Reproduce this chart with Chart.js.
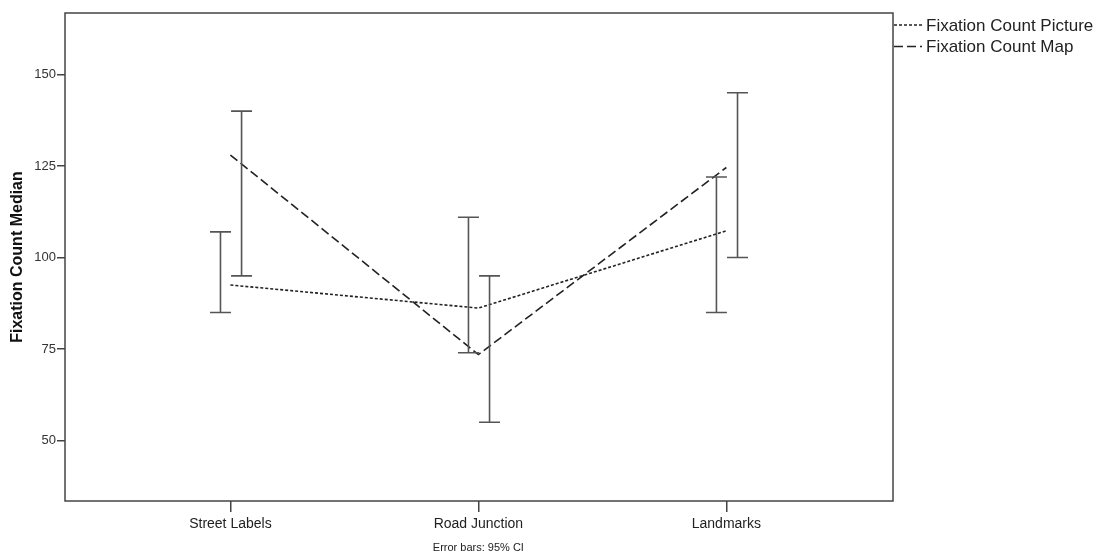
<!DOCTYPE html>
<html>
<head>
<meta charset="utf-8">
<script src="https://cdn.jsdelivr.net/npm/chart.js@4"></script>
<style>
    html, body { margin: 0; padding: 0; background: #fff; }
    #wrap { width: 1099px; height: 559px; }
</style>
</head>
<body>
<div id="wrap"><canvas id="chart" width="1099" height="559"></canvas></div>
<script>
const categories = ["Street Labels", "Road Junction", "Landmarks"];
const pictureMedian = [92.5, 86.2, 107.3];
const mapMedian = [128, 73.5, 124.6];
const pictureLow = [85, 74, 85];
const pictureHigh = [107, 111, 122];
const mapLow = [95, 55, 100];
const mapHigh = [140, 95, 145];
const yTicks = [50, 75, 100, 125, 150];

const FONT = "'Liberation Sans', Arial, sans-serif";

// error bars sit a bit left (picture) and right (map) of the category
const errorBars = [
    { low: pictureLow, high: pictureHigh, shift: -0.04 },
    { low: mapLow, high: mapHigh, shift: 0.045 }
];

const errorBarPlugin = {
    id: "errorBars",
    afterDatasetsDraw(chart) {
        const ctx = chart.ctx;
        const xs = chart.scales.x;
        const ys = chart.scales.y;
        ctx.save();
        ctx.strokeStyle = "#555";
        ctx.lineWidth = 1.6;
        errorBars.forEach(function (bar) {
            for (let i = 0; i < categories.length; i++) {
                const px = xs.getPixelForValue(i + bar.shift);
                const top = ys.getPixelForValue(bar.high[i]);
                const bot = ys.getPixelForValue(bar.low[i]);
                ctx.beginPath();
                ctx.moveTo(px, top);
                ctx.lineTo(px, bot);
                ctx.moveTo(px - 10.5, top);
                ctx.lineTo(px + 10.5, top);
                ctx.moveTo(px - 10.5, bot);
                ctx.lineTo(px + 10.5, bot);
                ctx.stroke();
            }
        });
        ctx.restore();
    }
};

const framePlugin = {
    id: "frame",
    afterDraw(chart) {
        const ctx = chart.ctx;
        const a = chart.chartArea;
        ctx.save();
        ctx.strokeStyle = "#444";
        ctx.lineWidth = 1.5;
        ctx.strokeRect(a.left, a.top, a.right - a.left, a.bottom - a.top);

        // legend on the right, outside the frame
        ctx.strokeStyle = "#222";
        ctx.lineWidth = 1.5;
        ctx.fillStyle = "#222";
        ctx.font = "17px " + FONT;
        ctx.textBaseline = "middle";
        const entries = [
            { text: "Fixation Count Picture", dash: [3, 2] },
            { text: "Fixation Count Map", dash: [9, 4] }
        ];
        entries.forEach(function (e, i) {
            const y = a.top + 12 + i * 21.5;
            ctx.setLineDash(e.dash);
            ctx.beginPath();
            ctx.moveTo(a.right + 1, y);
            ctx.lineTo(a.right + 29, y);
            ctx.stroke();
            ctx.setLineDash([]);
            ctx.fillText(e.text, a.right + 33, y + 1);
        });

        // footnote under the axis
        ctx.font = "11px " + FONT;
        ctx.textAlign = "center";
        ctx.fillStyle = "#222";
        ctx.fillText("Error bars: 95% CI", chart.scales.x.getPixelForValue(1), 548);
        ctx.restore();
    }
};

new Chart(document.getElementById("chart"), {
    type: "line",
    data: {
        datasets: [{
            label: "Fixation Count Picture",
            data: pictureMedian.map((v, i) => ({ x: i, y: v })),
            borderColor: "#222",
            borderWidth: 1.6,
            borderDash: [3, 2],
            pointRadius: 0,
            fill: false
        }, {
            label: "Fixation Count Map",
            data: mapMedian.map((v, i) => ({ x: i, y: v })),
            borderColor: "#222",
            borderWidth: 1.6,
            borderDash: [9, 4],
            pointRadius: 0,
            fill: false
        }]
    },
    options: {
        responsive: false,
        animation: false,
        layout: { padding: { left: 0, right: 206, top: 13, bottom: 0 } },
        plugins: {
            legend: { display: false },
            tooltip: { enabled: false }
        },
        scales: {
            x: {
                type: "linear",
                min: -0.667,
                max: 2.672,
                afterBuildTicks: function (scale) {
                    scale.ticks = categories.map((c, i) => ({ value: i }));
                },
                afterFit: function (scale) { scale.height = 58; },
                ticks: {
                    callback: function (v) { return categories[v]; },
                    color: "#222",
                    font: { family: FONT, size: 14 },
                    padding: 4,
                    maxRotation: 0
                },
                grid: {
                    display: true,
                    drawOnChartArea: false,
                    drawTicks: true,
                    tickLength: 11,
                    color: "#444",
                    lineWidth: 1.5
                },
                border: { display: false }
            },
            y: {
                min: 33.5,
                max: 166.8,
                afterBuildTicks: function (scale) {
                    scale.ticks = yTicks.map(v => ({ value: v }));
                },
                afterFit: function (scale) { scale.width = 65; },
                ticks: {
                    color: "#333",
                    font: { family: FONT, size: 13 },
                    padding: 1
                },
                grid: {
                    display: true,
                    drawOnChartArea: false,
                    drawTicks: true,
                    tickLength: 8,
                    color: "#444",
                    lineWidth: 1.5
                },
                border: { display: false },
                title: {
                    display: true,
                    text: "Fixation Count Median",
                    color: "#111",
                    font: { family: FONT, size: 16, weight: "bold" },
                    padding: { top: 8, bottom: 0 }
                }
            }
        }
    },
    plugins: [errorBarPlugin, framePlugin]
});
</script>
</body>
</html>
